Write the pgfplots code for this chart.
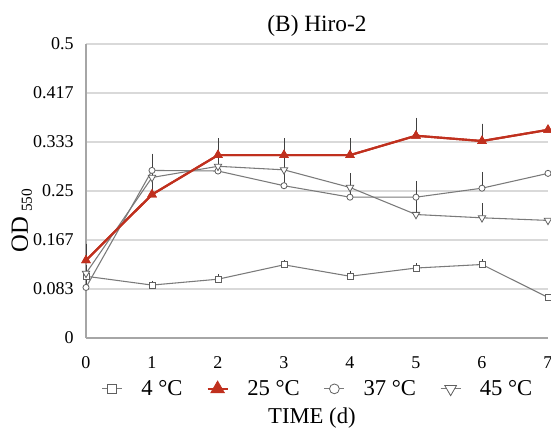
\documentclass[border=0pt]{standalone}
\usepackage{fontspec}
\setmainfont{Liberation Serif}
\usepackage{pgfplots}
\usepackage{pgfplotstable}
\pgfplotsset{compat=1.18}
\definecolor{REDL}{HTML}{C0301E}
\definecolor{GRYL}{HTML}{7A7A7A}
\definecolor{GRYM}{HTML}{606060}
\definecolor{GRID}{HTML}{D9D9D9}
\definecolor{AXL}{HTML}{A6A6A6}
\definecolor{EBAR}{HTML}{404040}

% day  OD550  +err
\pgfplotstableread{
x y e
0 0.105 0.004
1 0.090 0.003
2 0.100 0.004
3 0.1245 0.004
4 0.105 0.004
5 0.119 0.004
6 0.125 0.004
7 0.069 0.003
}\tfour
\pgfplotstableread{
x y e
0 0.132 0.024
1 0.244 0.025
2 0.311 0.024
3 0.311 0.024
4 0.311 0.024
5 0.344 0.026
6 0.335 0.025
7 0.354 0.026
}\ttwentyfive
\pgfplotstableread{
x y e
0 0.086 0.010
1 0.285 0.024
2 0.284 0.020
3 0.259 0.026
4 0.2395 0.020
5 0.2395 0.023
6 0.2548 0.023
7 0.280 0.022
}\tthirtyseven
\pgfplotstableread{
x y e
0 0.110 0.010
1 0.273 0.020
2 0.292 0.020
3 0.286 0.020
4 0.256 0.020
5 0.210 0.020
6 0.2044 0.020
7 0.200 0.020
}\tfortyfive

\begin{document}
\begin{tikzpicture}
\begin{axis}[
  at={(0,0)}, anchor=south west,
  scale only axis, width=346.5pt, height=220.5pt,
  xmin=0, xmax=7, ymin=0, ymax=0.5,
  axis x line*=bottom, axis y line*=left,
  axis line style={AXL, line width=0.9pt},
  major tick length=0pt,
  xtick={0,1,2,3,4,5,6,7},
  xticklabels={0,1,2,3,4,5,6,7},
  ytick={0,0.083333,0.166667,0.25,0.333333,0.416667,0.5},
  yticklabels={0,0.083,0.167,0.25,0.333,0.417,0.5},
  ymajorgrids, grid style={GRID, line width=0.8pt},
  tick label style={font=\fontsize{13.5}{15}\selectfont},
  yticklabel style={anchor=east, inner sep=0pt, xshift=-9pt},
  xticklabel style={anchor=north, inner sep=0pt, yshift=-14pt},
  title={(B) Hiro-2},
  title style={at={(axis description cs:0.5,1.034)}, anchor=center, inner sep=0pt, font=\fontsize{17.5}{20}\selectfont},
  xlabel={TIME (d)},
  xlabel style={at={(axis description cs:0.489,-0.272)}, anchor=center, inner sep=0pt, font=\fontsize{17}{20}\selectfont},
  ylabel={OD\hspace{3.5pt}{\fontsize{11.5}{13}\selectfont\raisebox{-3pt}{550}}},
  ylabel style={at={(axis description cs:-0.139,0.40)}, anchor=center, inner sep=0pt, font=\fontsize{18.5}{20}\selectfont},
  legend columns=4,
  legend style={draw=none, fill=none, inner sep=0pt,
    at={(axis description cs:0.5,-0.173)}, anchor=center,
    font=\fontsize{17}{20}\selectfont,
    nodes={inner sep=0pt},
    /tikz/every odd column/.append style={column sep=14pt},
    /tikz/every even column/.append style={column sep=18pt}},
  legend image code/.code={\draw[mark repeat=2, mark phase=2, #1,
    every mark/.append style={scale=1.6}]
    plot coordinates {(0pt,0pt) (7.5pt,0pt) (15pt,0pt)};},
  error bars/y dir=plus, error bars/y explicit,
  error bars/error bar style={EBAR, line width=0.6pt},
  error bars/error mark options={EBAR, mark size=2pt, line width=0.6pt},
]
\addplot[GRYL, line width=0.8pt, mark=square*, mark size=2.2pt,
  mark options={draw=GRYM, fill=white, line width=0.6pt}]
  table[x=x, y=y, y error=e] {\tfour};
\addlegendentry{4 °C}
\addplot[REDL, line width=1.6pt, mark=triangle*, mark size=3.7pt,
  mark options={fill=REDL, draw=REDL, line width=0.5pt}]
  table[x=x, y=y, y error=e] {\ttwentyfive};
\addlegendentry{25 °C}
\addplot[GRYL, line width=0.8pt, mark=*, mark size=2.3pt,
  mark options={draw=GRYM, fill=white, line width=0.6pt}]
  table[x=x, y=y, y error=e] {\tthirtyseven};
\addlegendentry{37 °C}
\addplot[GRYL, line width=0.8pt, mark=triangle*, mark size=3.2pt,
  mark options={draw=GRYM, fill=white, line width=0.6pt, rotate=180}]
  table[x=x, y=y, y error=e] {\tfortyfive};
\addlegendentry{45 °C}
% red series again so it sits on top of the grey lines
\addplot[forget plot, REDL, line width=1.6pt, mark=triangle*, mark size=3.7pt,
  mark options={fill=REDL, draw=REDL, line width=0.5pt}]
  table[x=x, y=y, y error=e] {\ttwentyfive};
\end{axis}
\pgfresetboundingbox
\path[use as bounding box] (-64.5pt,-73.5pt) rectangle (348.75pt,253.5pt);
\end{tikzpicture}
\end{document}
